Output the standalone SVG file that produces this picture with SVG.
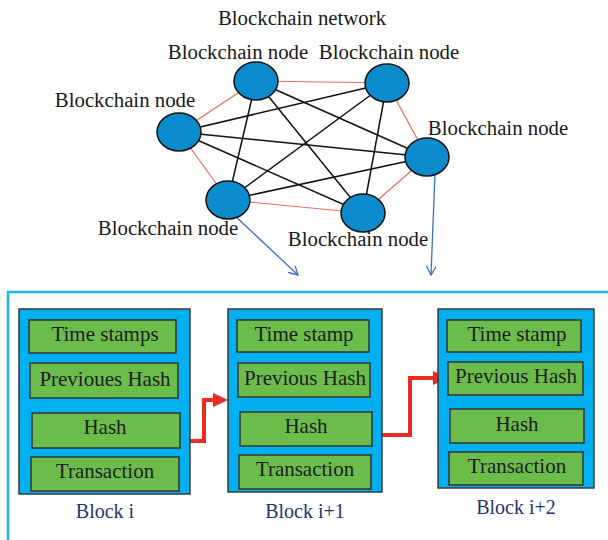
<svg xmlns="http://www.w3.org/2000/svg" width="608" height="540" viewBox="0 0 608 540">
<defs>
<style>
.lbl{font-family:"Liberation Serif","Times New Roman",serif;font-size:20.8px;fill:#1a1a1a}
.node ellipse{fill:#0b8bcb;stroke:#111;stroke-width:1.5}
.red{stroke:#f0695c;stroke-width:1.2;fill:none}
.blk{stroke:#111;stroke-width:1.5;fill:none}
.blue{stroke:#3a6fc2;stroke-width:1.3;fill:none}
.block>rect.outer{fill:#00b0f0;stroke:#3a3a3a;stroke-width:1.5}
.block rect.f{fill:#6abd4b;stroke:#333;stroke-width:1.5}
.ft{font-family:"Liberation Serif","Times New Roman",serif;font-size:21px;fill:#1e1e1e;text-anchor:middle}
.bl{font-family:"Liberation Serif","Times New Roman",serif;font-size:20px;fill:#1f3470;text-anchor:middle}
.rarrow{stroke:#ee2a24;stroke-width:4;fill:none}
.rhead{fill:#ee2a24}
</style>
<marker id="openArrow" viewBox="0 0 10 10" refX="9" refY="5" markerWidth="10" markerHeight="10" markerUnits="userSpaceOnUse" orient="auto">
<path d="M0,0 L9,5 L0,10" fill="none" stroke="#3a6fc2" stroke-width="1.3"/>
</marker>
</defs>
<rect width="608" height="540" fill="#fff"/>

<text class="lbl" x="302" y="25" text-anchor="middle">Blockchain network</text>

<g id="connectors">
<g id="ring">
<line class="red" x1="256" y1="81" x2="387" y2="83"/>
<line class="red" x1="387" y1="83" x2="427" y2="157"/>
<line class="red" x1="427" y1="157" x2="363" y2="213"/>
<line class="red" x1="363" y1="213" x2="228" y2="200"/>
<line class="red" x1="228" y1="200" x2="179" y2="132"/>
<line class="red" x1="179" y1="132" x2="256" y2="81"/>
</g>
<g id="mesh">
<line class="blk" x1="256" y1="81" x2="228" y2="200"/>
<line class="blk" x1="256" y1="81" x2="363" y2="213"/>
<line class="blk" x1="256" y1="81" x2="427" y2="157"/>
<line class="blk" x1="387" y1="83" x2="179" y2="132"/>
<line class="blk" x1="387" y1="83" x2="228" y2="200"/>
<line class="blk" x1="387" y1="83" x2="363" y2="213"/>
<line class="blk" x1="179" y1="132" x2="427" y2="157"/>
<line class="blk" x1="179" y1="132" x2="363" y2="213"/>
<line class="blk" x1="228" y1="200" x2="427" y2="157"/>
</g>
<line class="blue" x1="234" y1="215" x2="298" y2="275" marker-end="url(#openArrow)"/>
<line class="blue" x1="435" y1="174" x2="431" y2="275" marker-end="url(#openArrow)"/>
<polyline class="rarrow" points="180,441 204,441 204,400 215,400"/>
<polygon class="rhead" points="213,393 228,400 213,407"/>
<polyline class="rarrow" points="372,435 410,435 410,378 435,378"/>
<polygon class="rhead" points="433,371 448,378 433,385"/>
</g>

<g id="nodeA" class="node"><ellipse cx="256" cy="81" rx="22" ry="19"/><text class="lbl" x="238" y="59" text-anchor="middle">Blockchain node</text></g>
<g id="nodeB" class="node"><ellipse cx="387" cy="83" rx="22" ry="19"/><text class="lbl" x="389" y="59" text-anchor="middle">Blockchain node</text></g>
<g id="nodeC" class="node"><ellipse cx="179" cy="132" rx="22" ry="19"/><text class="lbl" x="125" y="107" text-anchor="middle">Blockchain node</text></g>
<g id="nodeD" class="node"><ellipse cx="427" cy="157" rx="22" ry="19"/><text class="lbl" x="498" y="135" text-anchor="middle">Blockchain node</text></g>
<g id="nodeE" class="node"><ellipse cx="228" cy="200" rx="22" ry="19"/><text class="lbl" x="168" y="235" text-anchor="middle">Blockchain node</text></g>
<g id="nodeF" class="node"><ellipse cx="363" cy="213" rx="22" ry="19"/><text class="lbl" x="358" y="246" text-anchor="middle">Blockchain node</text></g>

<path id="frame" d="M8,540 L8,292 L608,292" fill="none" stroke="#1ab3ea" stroke-width="2.5"/>

<g id="block1" class="block">
<rect class="outer" x="19" y="309" width="171" height="185"/>
<rect class="f" x="29" y="320" width="147" height="33"/>
<text class="ft" x="105" y="341">Time stamps</text>
<rect class="f" x="30" y="363" width="148" height="35"/>
<text class="ft" x="105" y="386">Previoues Hash</text>
<rect class="f" x="32" y="413" width="148" height="35"/>
<text class="ft" x="105" y="434">Hash</text>
<rect class="f" x="31" y="457" width="148" height="34"/>
<text class="ft" x="105" y="478">Transaction</text>
<text class="bl" x="105" y="518">Block i</text>
</g>

<g id="block2" class="block">
<rect class="outer" x="228" y="309" width="154" height="183"/>
<rect class="f" x="237" y="320" width="132" height="32"/>
<text class="ft" x="304" y="341">Time stamp</text>
<rect class="f" x="238" y="363" width="132" height="34"/>
<text class="ft" x="305" y="385">Previous Hash</text>
<rect class="f" x="240" y="412" width="132" height="34"/>
<text class="ft" x="306" y="433">Hash</text>
<rect class="f" x="239" y="455" width="132" height="34"/>
<text class="ft" x="305" y="476">Transaction</text>
<text class="bl" x="305" y="518">Block i+1</text>
</g>

<g id="block3" class="block">
<rect class="outer" x="438" y="309" width="156" height="179"/>
<rect class="f" x="447" y="320" width="134" height="32"/>
<text class="ft" x="517" y="341">Time stamp</text>
<rect class="f" x="448" y="362" width="135" height="33"/>
<text class="ft" x="516" y="383">Previous Hash</text>
<rect class="f" x="450" y="409" width="134" height="34"/>
<text class="ft" x="517" y="431">Hash</text>
<rect class="f" x="449" y="452" width="134" height="33"/>
<text class="ft" x="517" y="473">Transaction</text>
<text class="bl" x="516" y="514">Block i+2</text>
</g>
</svg>
